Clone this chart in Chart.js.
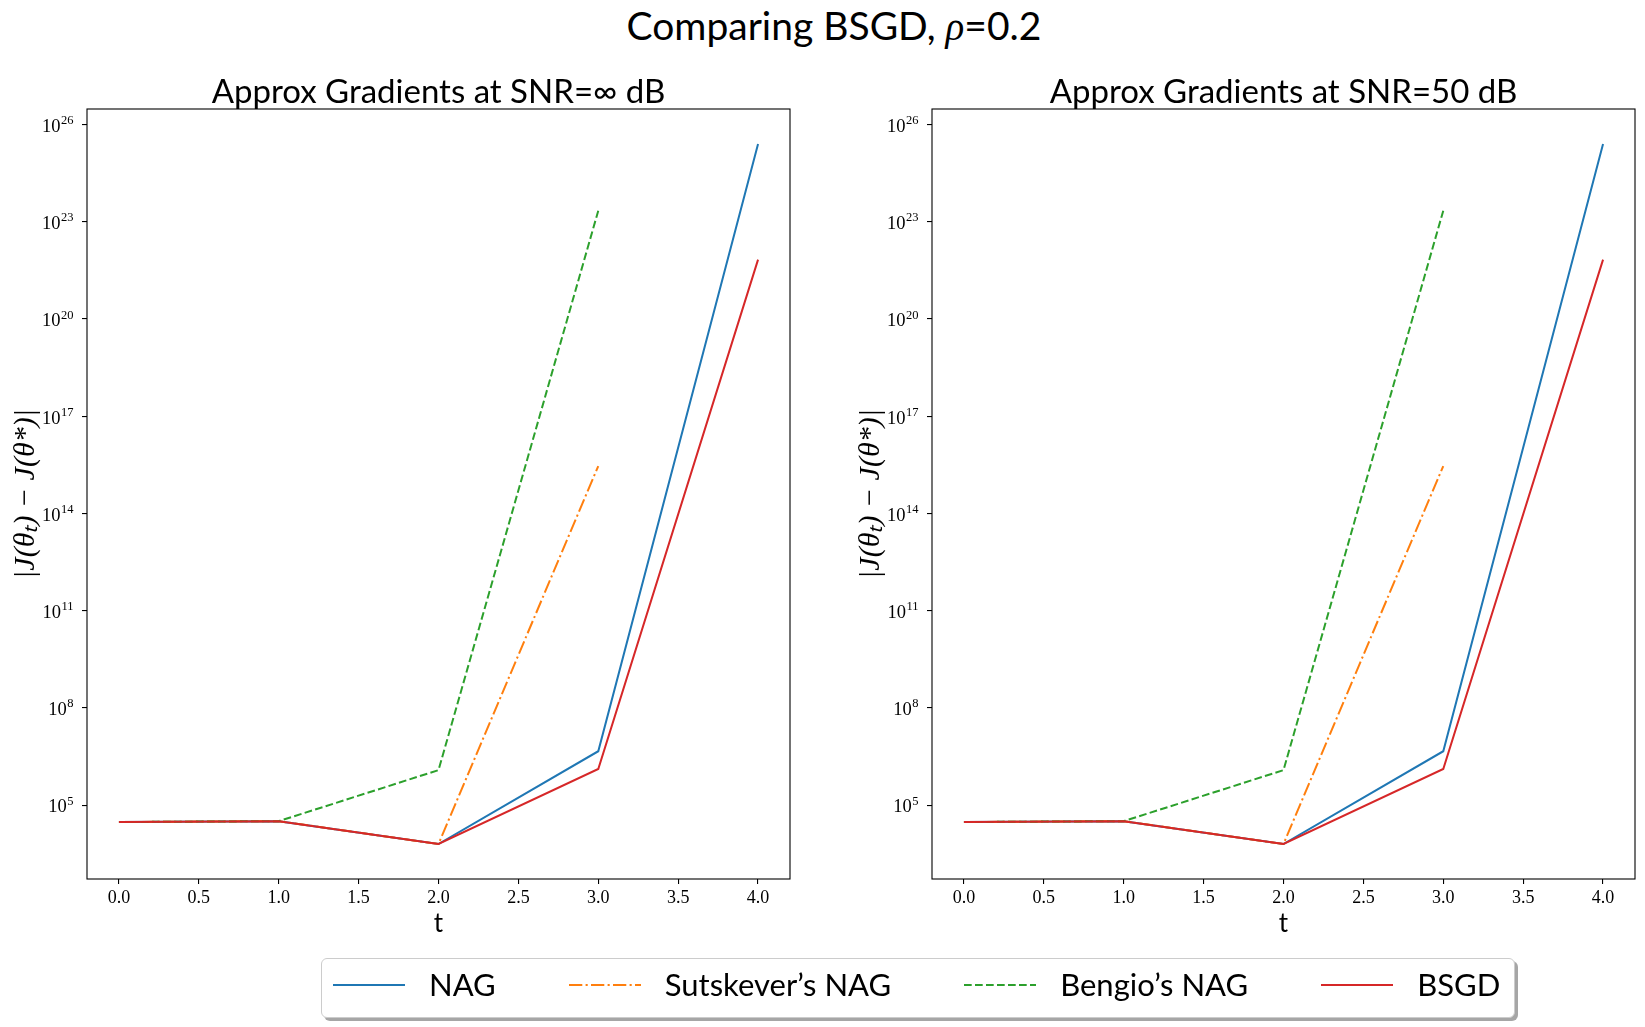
<!DOCTYPE html>
<html>
<head>
<meta charset="utf-8">
<title>Comparing BSGD</title>
<script src="https://cdn.jsdelivr.net/npm/chart.js@4.4.1/dist/chart.umd.min.js"></script>
<style>
  body { margin: 0; background: #fff; width: 1645px; height: 1027px; position: relative; overflow: hidden; font-family: Lato, sans-serif; color: #000; }
  #supTitulo { position: absolute; left: 0; width: 1668px; top: 2px; text-align: center; font-size: 39px; line-height: 46px; white-space: nowrap; }
  #supTitulo i { font-family: "Liberation Serif", serif; }
  canvas { position: absolute; top: 60px; }
  #grafico1 { left: 0; }
  #grafico2 { left: 845px; }
  #legenda { position: absolute; left: 321px; top: 958px; width: 1194px; height: 60px; box-sizing: border-box;
             border: 1px solid #cccccc; border-radius: 6px; background: #fff; box-shadow: 3px 3px 0 rgba(0,0,0,0.35);
             display: flex; align-items: center; padding: 0 0 7px 11px; }
  .item { display: flex; align-items: center; margin-right: 73px; }
  .item svg { margin-right: 24px; }
  .item span { font-size: 31px; line-height: 37px; white-space: nowrap; }
</style>
</head>
<body>
<div id="supTitulo">Comparing BSGD, <i>ρ</i>=0.2</div>
<canvas id="grafico1" width="877" height="900"></canvas>
<canvas id="grafico2" width="877" height="900"></canvas>
<div id="legenda"></div>

<script>
// ---- dados (eixo y em escala log)
const passos = [0, 1, 2, 3, 4];
const nomesSeries = ['NAG', 'Sutskever’s NAG', 'Bengio’s NAG', 'BSGD'];

// SNR = infinito
const nagInf = [3.0e4, 3.2e4, 6.3e3, 4.6e6, 2.5e25];
const sutskeverInf = [3.0e4, 3.2e4, 6.3e3, 2.9e15];
const bengioInf = [3.0e4, 3.2e4, 1.2e6, 2.2e23];
const bsgdInf = [3.0e4, 3.2e4, 6.3e3, 1.3e6, 6.8e21];

// SNR = 50 dB
const nag50 = [3.0e4, 3.2e4, 6.3e3, 4.6e6, 2.5e25];
const sutskever50 = [3.0e4, 3.2e4, 6.3e3, 2.9e15];
const bengio50 = [3.0e4, 3.2e4, 1.2e6, 2.2e23];
const bsgd50 = [3.0e4, 3.2e4, 6.3e3, 1.3e6, 6.8e21];

// ticks dos eixos
const ticksX = [0, 0.5, 1, 1.5, 2, 2.5, 3, 3.5, 4];
const expoentesY = [5, 8, 11, 14, 17, 20, 23, 26];

// ---- estilos das linhas (cores do matplotlib)
const cores = ['#1f77b4', '#ff7f0e', '#2ca02c', '#d62728'];
const tracos = [[], [13.3, 3.3, 2.1, 3.3], [7.7, 3.3], []];

// moldura completa em volta da área do gráfico
const moldura = {
    id: 'moldura',
    afterDraw(chart) {
        const { ctx, chartArea: a } = chart;
        ctx.save();
        ctx.strokeStyle = '#000';
        ctx.lineWidth = 1.1;
        ctx.strokeRect(a.left, a.top, a.right - a.left, a.bottom - a.top);
        ctx.restore();
    }
};

// rótulos 10^n do eixo y com expoente sobrescrito
const rotulosLog = {
    id: 'rotulosLog',
    afterDraw(chart) {
        const { ctx } = chart;
        const escala = chart.scales.y;
        const xDireita = escala.right - 13.5;
        ctx.save();
        ctx.fillStyle = '#000';
        ctx.textAlign = 'right';
        ctx.textBaseline = 'alphabetic';
        escala.ticks.forEach(t => {
            const y = escala.getPixelForValue(t.value);
            const expoente = String(Math.round(Math.log10(t.value)));
            ctx.font = '12.5px "Liberation Serif"';
            const larguraExp = ctx.measureText(expoente).width;
            ctx.fillText(expoente, xDireita, y - 0.5);
            ctx.font = '18.5px "Liberation Serif"';
            ctx.fillText('10', xDireita - larguraExp - 0.5, y + 7.3);
        });
        ctx.restore();
    }
};

function criarGrafico(idCanvas, titulo, series) {
    const ctx = document.getElementById(idCanvas).getContext('2d');
    return new Chart(ctx, {
        type: 'line',
        data: {
            datasets: series.map((valores, i) => ({
                label: nomesSeries[i],
                data: valores.map((v, j) => ({ x: passos[j], y: v })),
                borderColor: cores[i],
                borderWidth: 2,
                borderDash: tracos[i],
                pointRadius: 0,
                tension: 0,
                fill: false,
                order: series.length - 1 - i // BSGD por cima
            }))
        },
        options: {
            responsive: false,
            animation: false,
            layout: { padding: { left: 0, right: 87, top: 0, bottom: 0 } },
            plugins: {
                legend: { display: false },
                tooltip: { enabled: false },
                title: {
                    display: true,
                    fullSize: false,
                    text: titulo,
                    color: '#000',
                    font: { family: 'Lato', size: 33, weight: 'normal', lineHeight: 1 },
                    padding: { top: 15.5, bottom: 0.5 }
                }
            },
            scales: {
                x: {
                    type: 'linear',
                    min: -0.2,
                    max: 4.2,
                    afterBuildTicks: (scale) => { scale.ticks = ticksX.map(v => ({ value: v })); },
                    afterFit: (scale) => { scale.height = 81; },
                    border: { display: false },
                    grid: { drawOnChartArea: false, drawTicks: true, tickLength: 5, color: '#000', lineWidth: 1.1 },
                    ticks: {
                        color: '#000',
                        padding: 3,
                        maxRotation: 0,
                        font: { family: 'Liberation Serif', size: 18 },
                        callback: (v) => Number(v).toFixed(1)
                    },
                    title: {
                        display: true,
                        text: 't',
                        color: '#000',
                        font: { family: 'Lato', size: 26 },
                        padding: { top: 0, bottom: 21 }
                    }
                },
                y: {
                    type: 'logarithmic',
                    bounds: 'data',
                    min: Math.pow(10, 2.72),
                    max: Math.pow(10, 26.48),
                    afterBuildTicks: (scale) => { scale.ticks = expoentesY.map(e => ({ value: Math.pow(10, e) })); },
                    afterFit: (scale) => { scale.width = 87; },
                    border: { display: false },
                    grid: { drawOnChartArea: false, drawTicks: true, tickLength: 5, color: '#000', lineWidth: 1.1 },
                    ticks: { display: false },
                    title: {
                        display: true,
                        text: '|J(θₜ) − J(θ*)|',
                        color: '#000',
                        font: { family: 'Liberation Serif', size: 30, style: 'italic' },
                        padding: { top: 8, bottom: 0 }
                    }
                }
            }
        },
        plugins: [moldura, rotulosLog]
    });
}

criarGrafico('grafico1', 'Approx Gradients at SNR=∞ dB', [nagInf, sutskeverInf, bengioInf, bsgdInf]);
criarGrafico('grafico2', 'Approx Gradients at SNR=50 dB', [nag50, sutskever50, bengio50, bsgd50]);

// ---- legenda comum aos dois gráficos
const legenda = document.getElementById('legenda');
nomesSeries.forEach((nome, i) => {
    const item = document.createElement('div');
    item.className = 'item';
    const svg = `<svg width="72" height="6"><line x1="0" y1="3" x2="72" y2="3" stroke="${cores[i]}" stroke-width="2" stroke-dasharray="${tracos[i].join(' ') || 'none'}"/></svg>`;
    item.innerHTML = svg + `<span>${nome}</span>`;
    legenda.appendChild(item);
});
</script>
</body>
</html>
